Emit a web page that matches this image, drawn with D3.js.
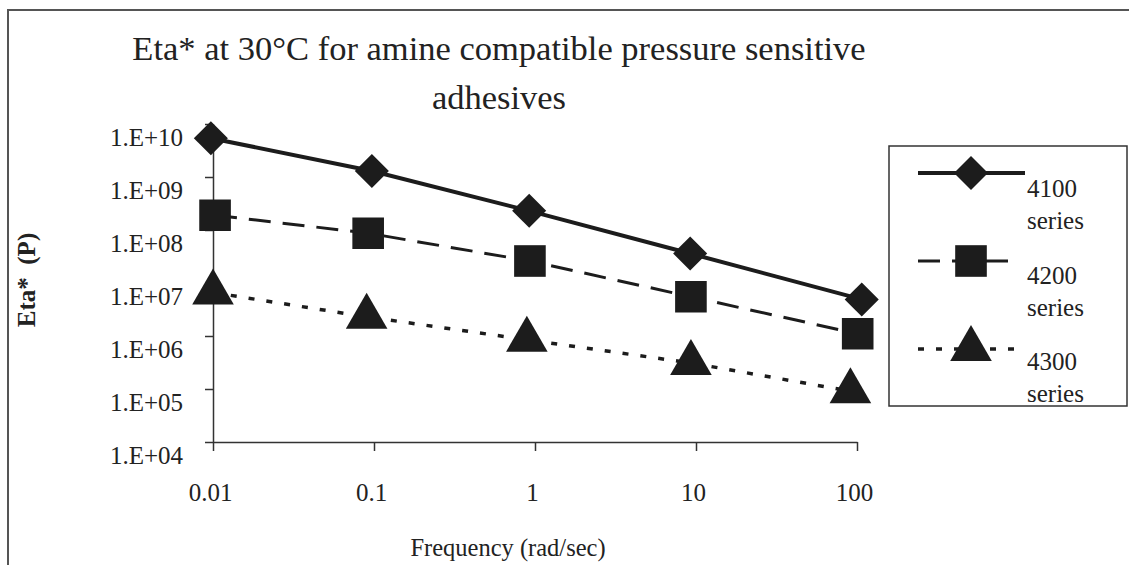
<!DOCTYPE html>
<html>
<head>
<meta charset="utf-8">
<script src="https://cdn.jsdelivr.net/npm/d3@7"></script>
<style>
  body { margin: 0; background: #fff; }
  svg { display: block; }
  text { font-family: "Liberation Serif", "Times New Roman", serif; fill: #222; }
</style>
</head>
<body>
<svg id="drawing_region"></svg>
<script>
// values
const xTicks = [0.01, 0.1, 1, 10, 100];
const xTickLabels = ["0.01", "0.1", "1", "10", "100"];
const yTicks = [1e4, 1e5, 1e6, 1e7, 1e8, 1e9, 1e10];
const yTickLabels = ["1.E+04", "1.E+05", "1.E+06", "1.E+07", "1.E+08", "1.E+09", "1.E+10"];

const seriesNames = ["4100", "4200", "4300"];
const freq4100 = [0.0097, 0.097, 0.92, 9.2, 107];
const eta4100  = [5.4e9, 1.3e9, 2.3e8, 3.6e7, 4.9e6];
const freq4200 = [0.0103, 0.092, 0.93, 9.3, 101];
const eta4200  = [1.9e8, 8.7e7, 2.6e7, 5.5e6, 1.1e6];
const freq4300 = [0.01, 0.09, 0.89, 9.3, 91];
const eta4300  = [6.6e6, 2.3e6, 8.5e5, 3.1e5, 9.1e4];

const config = {
    width: 1129,
    height: 565,
    plot: {left: 213, right: 857, top: 124, bottom: 442}
};

const ink = "#1c1c1c";

const series = [
    {name: seriesNames[0], x: freq4100, y: eta4100, dash: null,    width: 4,   symbol: d3.symbolSquare,   size: 580, rotate: 45},
    {name: seriesNames[1], x: freq4200, y: eta4200, dash: "22,12", width: 3,   symbol: d3.symbolSquare,   size: 1000, rotate: 0},
    {name: seriesNames[2], x: freq4300, y: eta4300, dash: "6,12",  width: 3.5, symbol: d3.symbolTriangle, size: 750, rotate: 0}
];

const svg = d3.select('#drawing_region')
    .attr('width', config.width)
    .attr('height', config.height);

// outer frame
svg.append('path')
    .attr('d', `M8,${config.height + 5} L8,10 L${config.width + 5},10`)
    .attr('fill', 'none')
    .attr('stroke', '#555')
    .attr('stroke-width', 2);

const xscale = d3.scaleLog()
    .domain([0.01, 100])
    .range([config.plot.left, config.plot.right]);

const yscale = d3.scaleLog()
    .domain([1e4, 1e10])
    .range([config.plot.bottom, config.plot.top]);

// axes
const xaxis = d3.axisBottom(xscale)
    .tickValues(xTicks)
    .tickFormat((d, i) => xTickLabels[i])
    .tickSize(9)
    .tickSizeOuter(0)
    .tickPadding(32);

const yaxis = d3.axisLeft(yscale)
    .tickValues(yTicks)
    .tickFormat((d, i) => yTickLabels[i])
    .tickSize(8)
    .tickSizeOuter(0)
    .tickPadding(22);

const xaxis_group = svg.append('g')
    .attr('transform', `translate(0, ${config.plot.bottom})`)
    .call(xaxis);

const yaxis_group = svg.append('g')
    .attr('transform', `translate(${config.plot.left}, 0)`)
    .call(yaxis);

[xaxis_group, yaxis_group].forEach(g => {
    g.select('.domain').attr('stroke', '#333').attr('stroke-width', 1.5);
    g.selectAll('.tick line').attr('stroke', '#333').attr('stroke-width', 1.5);
    g.selectAll('.tick text')
        .attr('fill', '#222')
        .style('font-family', '"Liberation Serif", serif')
        .style('font-size', '25px');
});
xaxis_group.selectAll('.tick text').attr('dx', -3);
// the labels sit a little below their ticks in the original
yaxis_group.selectAll('.tick text').attr('dy', '0.32em').attr('transform', 'translate(0, 13)');

// lines and markers
series.forEach(s => {
    const pts = s.x.map((x, i) => [x, s.y[i]]);
    const line = d3.line()
        .x(d => xscale(d[0]))
        .y(d => yscale(d[1]));

    svg.append('path')
        .datum(pts)
        .attr('d', line)
        .attr('fill', 'none')
        .attr('stroke', ink)
        .attr('stroke-width', s.width)
        .attr('stroke-dasharray', s.dash);

    svg.selectAll(null)
        .data(pts)
        .enter()
        .append('path')
        .attr('d', d3.symbol().type(s.symbol).size(s.size))
        .attr('transform', d => `translate(${xscale(d[0])}, ${yscale(d[1])}) rotate(${s.rotate})`)
        .attr('fill', ink);
});

// titles
const title = svg.append('text')
    .attr('text-anchor', 'middle')
    .style('font-size', '34.5px');
title.append('tspan').attr('x', 499).attr('y', 60)
    .text('Eta* at 30°C for amine compatible pressure sensitive');
title.append('tspan').attr('x', 499).attr('y', 109)
    .text('adhesives');

svg.append('text')
    .attr('transform', 'translate(35, 280) rotate(-90)')
    .attr('text-anchor', 'middle')
    .style('font-size', '25px')
    .style('font-weight', 'bold')
    .style('white-space', 'pre')
    .text('Eta*  (P)');

svg.append('text')
    .attr('x', 508)
    .attr('y', 556)
    .attr('text-anchor', 'middle')
    .style('font-size', '24.5px')
    .text('Frequency (rad/sec)');

// legend
const legend = svg.append('g');
legend.append('rect')
    .attr('x', 889).attr('y', 146)
    .attr('width', 238).attr('height', 260)
    .attr('fill', '#fff')
    .attr('stroke', '#333')
    .attr('stroke-width', 1.5);

const legendY = [173, 261, 349];
const legendTextY = [197, 284, 370];
series.forEach((s, i) => {
    const y = legendY[i];
    legend.append('line')
        .attr('x1', 918).attr('x2', i === 0 ? 1025 : 1015)
        .attr('y1', y).attr('y2', y)
        .attr('stroke', ink)
        .attr('stroke-width', s.width)
        .attr('stroke-dasharray', s.dash);
    legend.append('path')
        .attr('d', d3.symbol().type(s.symbol).size(s.size))
        .attr('transform', `translate(971, ${y}) rotate(${s.rotate})`)
        .attr('fill', ink);
    const t = legend.append('text').style('font-size', '25px');
    t.append('tspan').attr('x', 1027).attr('y', legendTextY[i]).text(s.name);
    t.append('tspan').attr('x', 1027).attr('y', legendTextY[i] + 32).text('series');
});
</script>
</body>
</html>
